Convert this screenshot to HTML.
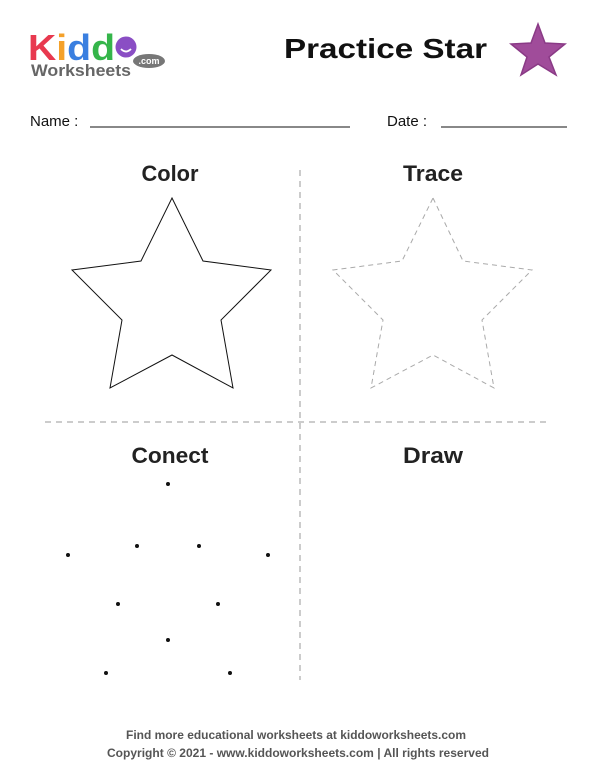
<!DOCTYPE html>
<html><head><meta charset="utf-8"><style>
html,body{margin:0;padding:0;background:#fff;}
body{width:595px;height:770px;overflow:hidden;font-family:"Liberation Sans",sans-serif;}
</style></head><body>
<svg width="595" height="770" viewBox="0 0 595 770" xmlns="http://www.w3.org/2000/svg">
<g font-family="Liberation Sans" font-weight="bold">
<text x="28" y="60" font-size="36" textLength="87" lengthAdjust="spacingAndGlyphs"><tspan fill="#e8394f">K</tspan><tspan fill="#f4a12a">i</tspan><tspan fill="#3a7fe0">d</tspan><tspan fill="#35b54a">d</tspan></text>
<circle cx="126" cy="47" r="10.5" fill="#8a4ec4"/>
<path d="M121 49 Q126 54 131 49" stroke="#fff" stroke-width="1.8" fill="none"/>
<text x="31" y="76" font-size="17" fill="#666" textLength="100" lengthAdjust="spacingAndGlyphs">Worksheets</text>
<ellipse cx="149" cy="61" rx="16" ry="7" fill="#777"/>
<text x="149" y="64" font-size="9" fill="#fff" text-anchor="middle">.com</text>
</g>
<text x="284" y="58" font-size="28" font-weight="bold" fill="#111" textLength="203" lengthAdjust="spacingAndGlyphs">Practice Star</text>
<polygon points="538,24 545,43 565,44 549,57 556,75 538,64 521,75 527,57 511,44 531,43" fill="#a04c9a" stroke="#8a3a86" stroke-width="1.5"/>
<text x="30" y="126" font-size="15" fill="#111">Name :</text>
<line x1="90" y1="127" x2="350" y2="127" stroke="#111" stroke-width="1"/>
<text x="387" y="126" font-size="15" fill="#111">Date :</text>
<line x1="441" y1="127" x2="567" y2="127" stroke="#111" stroke-width="1"/>
<line x1="300" y1="170" x2="300" y2="680" stroke="#999" stroke-width="1" stroke-dasharray="6,5"/>
<line x1="45" y1="422" x2="550" y2="422" stroke="#999" stroke-width="1" stroke-dasharray="6,5"/>
<g font-size="22" fill="#222" font-weight="bold" text-anchor="middle">
<text x="170" y="181" textLength="57" lengthAdjust="spacingAndGlyphs">Color</text>
<text x="433" y="181" textLength="60" lengthAdjust="spacingAndGlyphs">Trace</text>
<text x="170" y="463" textLength="77" lengthAdjust="spacingAndGlyphs">Conect</text>
<text x="433" y="463" textLength="60" lengthAdjust="spacingAndGlyphs">Draw</text>
</g>
<polygon points="172,198 203,261 271,270 221,320 233,388 172,355 110,388 122,320 72,270 141,261" fill="none" stroke="#111" stroke-width="1"/>
<polygon points="433,198 463,261 532,270 482,320 494,388 433,355 371,388 383,320 333,270 402,261" fill="none" stroke="#aaa" stroke-width="1" stroke-dasharray="5,4"/>
<g fill="#111">
<circle cx="168" cy="484" r="2"/><circle cx="68" cy="555" r="2"/><circle cx="137" cy="546" r="2"/><circle cx="199" cy="546" r="2"/><circle cx="268" cy="555" r="2"/><circle cx="118" cy="604" r="2"/><circle cx="218" cy="604" r="2"/><circle cx="168" cy="640" r="2"/><circle cx="106" cy="673" r="2"/><circle cx="230" cy="673" r="2"/>
</g>
<g font-size="12" fill="#555" font-weight="bold">
<text x="126" y="739" textLength="340" lengthAdjust="spacingAndGlyphs">Find more educational worksheets at kiddoworksheets.com</text>
<text x="107" y="757" textLength="382" lengthAdjust="spacingAndGlyphs">Copyright © 2021 - www.kiddoworksheets.com  |  All rights reserved</text>
</g>
</svg>
</body></html>
